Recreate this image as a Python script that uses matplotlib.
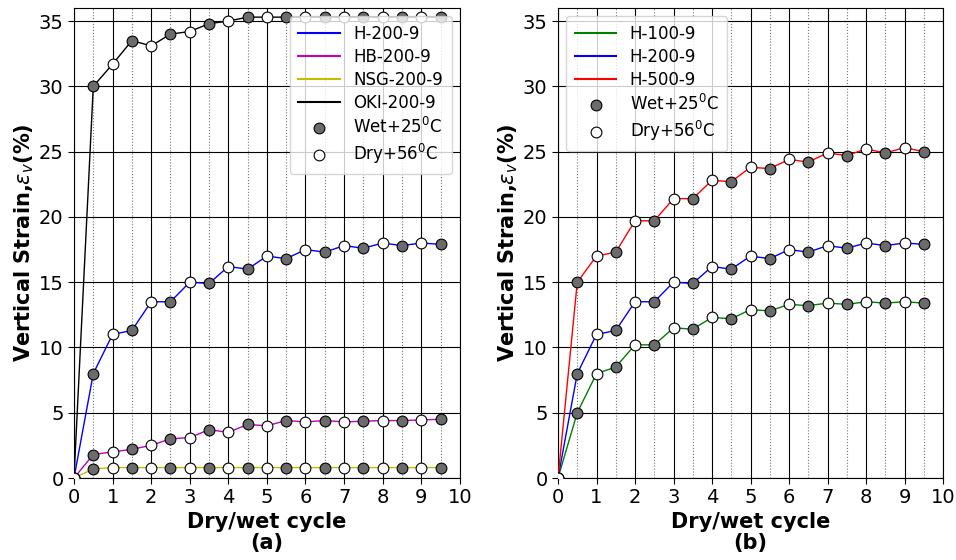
import numpy as np
import matplotlib.pyplot as plt
from matplotlib.ticker import MultipleLocator

# dry/wet cycles, every half cycle
cycle = [0, 0.5, 1, 1.5, 2, 2.5, 3, 3.5, 4, 4.5, 5, 5.5, 6, 6.5, 7, 7.5, 8, 8.5, 9, 9.5]

# panel (a)
h200 = [0, 8, 11, 11.3, 13.5, 13.5, 15, 14.9, 16.2, 16, 17, 16.8, 17.5, 17.3, 17.8, 17.6, 18, 17.8, 18, 17.9]
hb200 = [0, 1.8, 2.0, 2.2, 2.5, 3.0, 3.1, 3.7, 3.5, 4.1, 4.0, 4.4, 4.3, 4.4, 4.3, 4.35, 4.4, 4.4, 4.45, 4.5]
nsg200 = [0, 0.7, 0.8, 0.8, 0.8, 0.8, 0.8, 0.8, 0.8, 0.8, 0.8, 0.8, 0.8, 0.8, 0.8, 0.8, 0.8, 0.8, 0.8, 0.8]
oki200 = [0, 30, 31.7, 33.5, 33.1, 34, 34.2, 34.8, 35, 35.3, 35.3, 35.3, 35.3, 35.3, 35.3, 35.3, 35.3, 35.3, 35.3, 35.3]

# panel (b)
h100 = [0, 5, 8, 8.5, 10.2, 10.2, 11.5, 11.4, 12.3, 12.2, 12.9, 12.8, 13.3, 13.2, 13.4, 13.3, 13.5, 13.4, 13.5, 13.4]
h500 = [0, 15, 17, 17.3, 19.7, 19.7, 21.4, 21.4, 22.8, 22.7, 23.8, 23.7, 24.4, 24.2, 24.9, 24.7, 25.2, 24.9, 25.3, 25.0]

WETCOL = '#6b6b6b'
MS = 60


def drawPanel(ax, series, names, colors, tag, legloc):
	x = np.array(cycle)
	for ys, nm, c in zip(series, names, colors):
		ax.plot(x, ys, color=c, lw=1.0, label=nm, zorder=3)
	wet = (np.round(x * 2) % 2 == 1)
	for i, ys in enumerate(series):
		ys = np.array(ys)
		ax.scatter(x[wet], ys[wet], s=MS, facecolor=WETCOL, edgecolor='k', lw=0.8, zorder=4,
			label='Wet+25$^0$C' if i == 0 else None)
		ax.scatter(x[~wet], ys[~wet], s=MS, facecolor='white', edgecolor='k', lw=0.8, zorder=4,
			label='Dry+56$^0$C' if i == 0 else None)
	ax.set_xlim(0, 10)
	ax.set_ylim(0, 36)
	ax.xaxis.set_major_locator(MultipleLocator(1))
	ax.xaxis.set_minor_locator(MultipleLocator(0.5))
	ax.yaxis.set_major_locator(MultipleLocator(5))
	ax.grid(which='major', color='k', lw=0.8)
	ax.grid(which='minor', axis='x', color='#777777', ls=':', lw=0.8)
	ax.tick_params(axis='both', which='major', labelsize=14, length=4)
	ax.tick_params(axis='x', which='minor', length=0)
	ax.set_axisbelow(True)
	ax.set_ylabel('Vertical Strain,$\\varepsilon_v$(%)', fontsize=15, fontweight='bold', labelpad=2)
	ax.set_xlabel('Dry/wet cycle\n' + tag, fontsize=15, fontweight='bold', labelpad=3, linespacing=1.1)
	leg = ax.legend(loc=legloc, fontsize=12, framealpha=0.8, handlelength=2.5, borderpad=0.5, labelspacing=0.3)
	for ln in leg.get_lines():
		ln.set_linewidth(1.5)


fig = plt.figure(figsize=(9.56, 5.6), dpi=100)
ax1 = fig.add_axes([0.0774, 0.1464, 0.4036, 0.8393])
ax2 = fig.add_axes([0.5837, 0.1464, 0.4027, 0.8393])

drawPanel(ax1, [h200, hb200, nsg200, oki200], ['H-200-9', 'HB-200-9', 'NSG-200-9', 'OKI-200-9'],
	['b', 'm', 'y', 'k'], '(a)', 'upper right')
drawPanel(ax2, [h100, h200, h500], ['H-100-9', 'H-200-9', 'H-500-9'],
	['g', 'b', 'r'], '(b)', 'upper left')

plt.savefig('out.png', dpi=100)
